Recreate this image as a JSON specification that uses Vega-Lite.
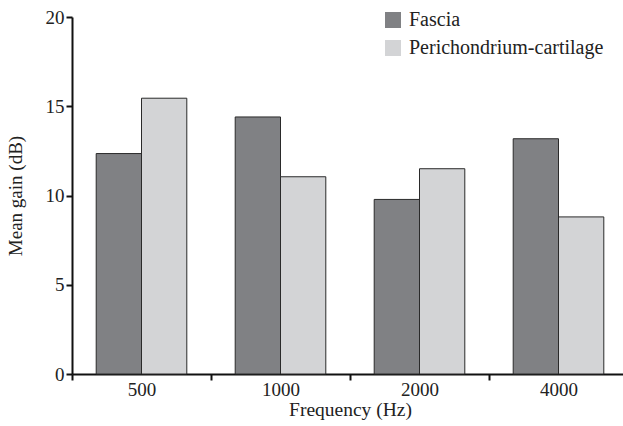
{
  "$schema": "https://vega.github.io/schema/vega-lite/v6.json",
  "autosize": "none",
  "width": 556,
  "height": 357,
  "padding": {"left": 72, "top": 17, "right": 0, "bottom": 52},
  "background": "white",
  "config": {
    "view": {"stroke": null},
    "font": "Liberation Serif"
  },
  "data": {
    "values": [
      {"freq": "500", "graft": "Fascia", "gain": 12.35},
      {"freq": "500", "graft": "Perichondrium-cartilage", "gain": 15.45},
      {"freq": "1000", "graft": "Fascia", "gain": 14.4},
      {"freq": "1000", "graft": "Perichondrium-cartilage", "gain": 11.05},
      {"freq": "2000", "graft": "Fascia", "gain": 9.78},
      {"freq": "2000", "graft": "Perichondrium-cartilage", "gain": 11.5},
      {"freq": "4000", "graft": "Fascia", "gain": 13.18},
      {"freq": "4000", "graft": "Perichondrium-cartilage", "gain": 8.8}
    ]
  },
  "mark": {"type": "bar", "stroke": "#2a2a2a", "strokeWidth": 1},
  "encoding": {
    "x": {
      "field": "freq",
      "type": "nominal",
      "sort": ["500", "1000", "2000", "4000"],
      "scale": {"paddingInner": 0, "paddingOuter": 0},
      "axis": {
        "title": "Frequency (Hz)",
        "titleFont": "Liberation Serif",
        "titleFontSize": 19.5,
        "titleFontWeight": "normal",
        "titleColor": "#222",
        "titlePadding": 1,
        "labelFont": "Liberation Serif",
        "labelFontSize": 19,
        "labelColor": "#222",
        "labelAngle": 0,
        "labelPadding": 0,
        "tickBand": "extent",
        "tickSize": 6,
        "tickColor": "#111",
        "tickWidth": 2,
        "domainColor": "#111",
        "domainWidth": 2
      }
    },
    "xOffset": {
      "field": "graft",
      "type": "nominal",
      "scale": {"paddingInner": 0, "paddingOuter": 0.534}
    },
    "y": {
      "field": "gain",
      "type": "quantitative",
      "scale": {"domain": [0, 20], "nice": false},
      "axis": {
        "title": "Mean gain (dB)",
        "titleFont": "Liberation Serif",
        "titleFontSize": 19,
        "titleFontWeight": "normal",
        "titleColor": "#222",
        "titlePadding": 20,
        "labelFont": "Liberation Serif",
        "labelFontSize": 19,
        "labelColor": "#222",
        "labelPadding": 2,
        "values": [0, 5, 10, 15, 20],
        "grid": false,
        "tickSize": 6,
        "tickColor": "#111",
        "tickWidth": 2,
        "domainColor": "#111",
        "domainWidth": 2
      }
    },
    "color": {
      "field": "graft",
      "type": "nominal",
      "scale": {
        "domain": ["Fascia", "Perichondrium-cartilage"],
        "range": ["#808184", "#d3d4d6"]
      },
      "legend": {
        "title": null,
        "orient": "none",
        "legendX": 311,
        "legendY": -7,
        "symbolType": "square",
        "symbolSize": 256,
        "symbolStrokeWidth": 0,
        "labelFont": "Liberation Serif",
        "labelFontSize": 20,
        "labelLimit": 400,
        "labelColor": "#222",
        "labelOffset": 6,
        "rowPadding": 8
      }
    }
  }
}
